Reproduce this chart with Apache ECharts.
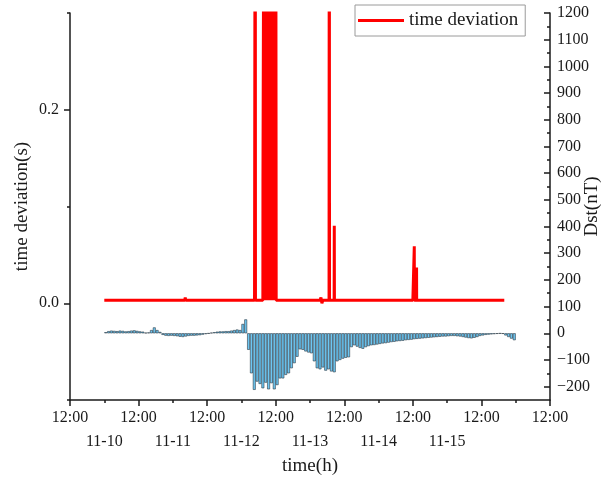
<!DOCTYPE html>
<html>
<head>
<meta charset="utf-8">
<script src="https://cdn.jsdelivr.net/npm/echarts@6/dist/echarts.min.js"></script>
<style>
  html, body { margin: 0; padding: 0; background: #fff; }
  #chart { width: 615px; height: 481px; }
</style>
</head>
<body>
<div id="chart"></div>
<script>
// Hourly Dst index (nT), first bar covers 11-10 00:00 - 01:00
const dstStart = '11-10 00:00';
const dstValues = [
  4, 8, 10, 9, 8, 10, 9, 7, 8, 10, 11, 9, 7, 6,
  2, 3, 12, 22, 12, 5,
  -6, -9, -10, -9, -10, -11, -13, -14, -12, -10, -9, -9, -8, -7, -5, -3, -1,
  2, 4, 6, 7, 7, 8, 8, 10, 12, 14, 12,
  35, 52, -62, -150, -212, -181, -190, -206, -185, -210, -187, -210, -194,
  -169, -169, -156, -150, -131, -112, -88, -60, -62, -68, -72, -75,
  -105, -131, -135, -128, -140, -135, -143, -146, -105, -100, -95, -92, -90,
  -52, -45, -50, -55, -58, -52, -48, -45,
  -44, -42, -40, -38, -37, -35, -33, -32, -30, -29, -28, -26, -25, -24, -22, -21, -20,
  -19, -18, -17, -16, -15, -14, -13, -12, -12, -11, -10, -10, -11, -12, -14,
  -16, -18, -19, -17, -14,
  -10, -8, -6, -5, -4, -3, -2, -1, -2,
  -8, -14, -20, -26
];

// Clock time deviation (s); values above the axis top are clipped
const devTimes = [
  '11-10 00:00', '11-10 06:00', '11-10 12:00', '11-10 18:00',
  '11-11 00:00', '11-11 04:10', '11-11 04:20', '11-11 04:30', '11-11 12:00', '11-11 20:00',
  '11-12 00:00', '11-12 03:40', '11-12 03:50', '11-12 04:00', '11-12 04:20', '11-12 04:35',
  '11-12 04:45', '11-12 04:50', '11-12 04:55', '11-12 05:10', '11-12 05:20', '11-12 07:30',
  '11-12 07:32', '11-12 07:56',
  '11-12 08:00', '11-12 08:10', '11-12 08:20', '11-12 08:30', '11-12 08:40', '11-12 08:50',
  '11-12 09:00', '11-12 09:10', '11-12 09:20', '11-12 09:30', '11-12 09:40', '11-12 09:50',
  '11-12 10:00', '11-12 10:10', '11-12 10:20', '11-12 10:30', '11-12 10:40', '11-12 10:50',
  '11-12 11:00', '11-12 11:10', '11-12 11:20', '11-12 11:30', '11-12 11:40', '11-12 11:50',
  '11-12 12:00', '11-12 12:10',
  '11-12 18:00', '11-13 00:00', '11-13 03:30', '11-13 03:50', '11-13 04:10', '11-13 04:30',
  '11-13 06:40', '11-13 06:45', '11-13 06:50', '11-13 08:27', '11-13 08:30', '11-13 08:33',
  '11-13 14:00', '11-13 20:00', '11-14 00:00', '11-14 03:50', '11-14 04:00', '11-14 04:10',
  '11-14 09:00', '11-14 12:00', '11-14 12:10', '11-14 12:28', '11-14 12:30', '11-14 12:32',
  '11-14 13:16', '11-14 13:18', '11-14 13:20', '11-14 18:00',
  '11-15 00:00', '11-15 06:00', '11-15 12:00', '11-15 20:00'
];
const devValues = [
  0.003, 0.003, 0.003, 0.003,
  0.003, 0.003, 0.006, 0.003, 0.003, 0.003,
  0.003, 0.003, 0.005, 0.003, 0.001, 0.003,
  0.003, 0.6, 0.003, 0.002, 0.003, 0.003,
  0.127, 0.127,
  0.6, 0.003, 0.6, 0.003, 0.6, 0.003,
  0.6, 0.003, 0.6, 0.003, 0.6, 0.003,
  0.6, 0.003, 0.6, 0.003, 0.6, 0.003,
  0.6, 0.003, 0.6, 0.003, 0.6, 0.003,
  0.6, 0.003,
  0.003, 0.003, 0.003, 0.006, 0.000, 0.003,
  0.003, 0.6, 0.003, 0.003, 0.080, 0.003,
  0.003, 0.003, 0.003, 0.003, 0.005, 0.003,
  0.003, 0.003, 0.001, 0.003, 0.059, 0.003,
  0.003, 0.037, 0.003, 0.003,
  0.003, 0.003, 0.003, 0.003
];

// Axis tick labels
const timeTickLabel = '12:00';
const dateLabels = ['11-10', '11-11', '11-12', '11-13', '11-14', '11-15'];
const devLabelValues = [0, 0.2];
const dstLabelValues = [-200, -100, 0, 100, 200, 300, 400, 500, 600, 700, 800, 900, 1000, 1100, 1200];

// Hours elapsed since 11-09 12:00 (all dates in November)
function hoursOf(s) {
  const [md, hm] = s.split(' ');
  const [, d] = md.split('-').map(Number);
  const [h, m] = hm.split(':').map(Number);
  return (d - 9) * 24 + h + m / 60 - 12;
}

const dstData = dstValues.map((v, i) => [hoursOf(dstStart) + i + 0.5, v]);
const devData = devTimes.map((t, i) => [hoursOf(t), devValues[i]]);
const dateLabelValues = dateLabels.map((d) => hoursOf(d + ' 00:00'));
const dstMinorValues = dstLabelValues.map((v) => v + 50).filter((v) => v < 1200);
dstMinorValues.unshift(-150);

const FONT = 'Liberation Serif';
const INK = '#1a1a1a';
const axisLine = { show: true, onZero: false, lineStyle: { color: INK, width: 1.5 } };

const chart = echarts.init(document.getElementById('chart'), null, { renderer: 'canvas' });
chart.setOption({
  animation: false,
  backgroundColor: '#fff',
  textStyle: { fontFamily: FONT, color: INK },
  grid: { left: 70, right: 65, top: 13, bottom: 81, containLabel: false, outerBoundsMode: 'none' },
  legend: {
    data: ['time deviation'],
    left: 355,
    top: 5,
    icon: 'rect',
    itemWidth: 46,
    itemHeight: 3,
    itemGap: 5,
    padding: [6, 7, 6, 3],
    backgroundColor: '#fff',
    borderColor: '#9a9a9a',
    borderWidth: 1,
    textStyle: { fontFamily: FONT, fontSize: 19, color: INK }
  },
  xAxis: [
    {
      type: 'value',
      min: 0,
      max: 168,
      interval: 24,
      position: 'bottom',
      axisLine: axisLine,
      axisTick: { show: true, length: 6, lineStyle: { color: INK, width: 1.5 } },
      minorTick: { show: true, splitNumber: 2, length: 3, lineStyle: { color: INK, width: 1.5 } },
      axisLabel: { formatter: () => timeTickLabel, fontFamily: FONT, fontSize: 16, color: INK, margin: 10 },
      splitLine: { show: false },
      minorSplitLine: { show: false },
      name: 'time(h)',
      nameLocation: 'middle',
      nameGap: 57,
      nameMoveOverlap: false,
      nameTextStyle: { fontFamily: FONT, fontSize: 19, color: INK }
    },
    {
      type: 'value',
      min: 0,
      max: 168,
      position: 'bottom',
      axisLine: { show: false, onZero: false },
      axisTick: { show: false },
      axisLabel: {
        customValues: dateLabelValues,
        formatter: (v) => dateLabels[dateLabelValues.indexOf(v)],
        fontFamily: FONT, fontSize: 16, color: INK, margin: 34
      },
      splitLine: { show: false }
    }
  ],
  yAxis: [
    {
      type: 'value',
      min: -0.1,
      max: 0.3,
      position: 'left',
      axisLine: axisLine,
      axisTick: { show: true, customValues: devLabelValues, length: 6, lineStyle: { color: INK, width: 1.5 } },
      axisLabel: {
        customValues: devLabelValues,
        formatter: (v) => v.toFixed(1),
        fontFamily: FONT, fontSize: 16, color: INK, margin: 11
      },
      splitLine: { show: false },
      name: 'time deviation(s)',
      nameLocation: 'middle',
      nameRotate: 90,
      nameGap: 38,
      nameMoveOverlap: false,
      nameTextStyle: { fontFamily: FONT, fontSize: 19, color: INK }
    },
    {
      type: 'value',
      min: -250,
      max: 1200,
      position: 'right',
      axisLine: axisLine,
      axisTick: { show: true, inside: true, customValues: dstLabelValues, length: 6, lineStyle: { color: INK, width: 1.5 } },
      axisLabel: {
        customValues: dstLabelValues,
        formatter: (v) => (v < 0 ? '\u2212' + Math.abs(v) : String(v)),
        fontFamily: FONT, fontSize: 16, color: INK, margin: 7
      },
      splitLine: { show: false },
      name: 'Dst(nT)',
      nameLocation: 'middle',
      nameRotate: 90,
      nameGap: 33,
      nameMoveOverlap: false,
      nameTextStyle: { fontFamily: FONT, fontSize: 19, color: INK }
    },
    {
      type: 'value',
      min: -0.1,
      max: 0.3,
      position: 'left',
      axisLine: { show: false, onZero: false },
      axisTick: { show: true, customValues: [-0.1, 0.1, 0.3], length: 3, lineStyle: { color: INK, width: 1.5 } },
      axisLabel: { show: false },
      splitLine: { show: false }
    },
    {
      type: 'value',
      min: -250,
      max: 1200,
      position: 'right',
      axisLine: { show: false, onZero: false },
      axisTick: { show: true, inside: true, customValues: dstMinorValues, length: 3, lineStyle: { color: INK, width: 1.5 } },
      axisLabel: { show: false },
      splitLine: { show: false }
    }
  ],
  series: [
    {
      name: 'Dst',
      type: 'bar',
      xAxisIndex: 0,
      yAxisIndex: 1,
      data: dstData,
      barWidth: '100%',
      itemStyle: { color: '#6cc6f2', borderColor: '#2e3a44', borderWidth: 0.6 },
      z: 2
    },
    {
      name: 'time deviation',
      type: 'line',
      xAxisIndex: 0,
      yAxisIndex: 0,
      data: devData,
      showSymbol: false,
      clip: true,
      lineStyle: { color: '#ff0000', width: 3 },
      itemStyle: { color: '#ff0000' },
      z: 3
    }
  ]
});
</script>
</body>
</html>
